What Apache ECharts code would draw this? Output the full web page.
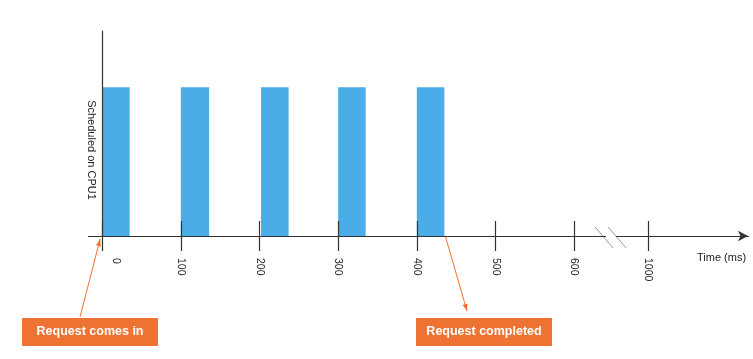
<!DOCTYPE html>
<html><head><meta charset="utf-8">
<script src="https://cdn.jsdelivr.net/npm/echarts@6/dist/echarts.min.js"></script>
<style>html,body{margin:0;padding:0;background:#fff}#c{width:753px;height:359px}</style>
</head><body><div id="c"></div>
<script>
// ---- data ----
const tickValues = [0, 100, 200, 300, 400, 500, 600, 1000];
const tickLabels = ['0', '100', '200', '300', '400', '500', '600', '1000'];
const burstStart = [0, 100, 202, 300, 400];
const burstEnd = [35, 136, 237, 335, 435];
const scheduled = [1, 1, 1, 1, 1];
const axisBreakStart = 640;
const axisBreakEnd = 960;
const annotations = ['Request comes in', 'Request completed'];
const annotationTimes = [0, 435];
const xAxisTitle = 'Time (ms)';
const yAxisTitle = 'Scheduled on CPU1';

const FONT = "'Liberation Sans', Arial, Helvetica, sans-serif";
const ORANGE = '#EE7231';
const BLUE = '#4AADE8';
const AXIS = '#333';

const rows = burstStart.map((s, i) => [s, burstEnd[i], scheduled[i]]);

const chart = echarts.init(document.getElementById('c'), null, {renderer: 'canvas'});

const xBase = {
  type: 'value', min: -18, max: 1127,
  breaks: [{start: axisBreakStart, end: axisBreakEnd, gap: 14}],
  breakArea: {show: false},
  splitLine: {show: false}
};

chart.setOption({
  animation: false,
  grid: {left: 88, right: 5, top: 31, bottom: 123},
  xAxis: [
    Object.assign({}, xBase, {
      position: 'bottom', z: 10,
      axisLine: {show: true, onZero: true, symbol: ['none', 'arrow'], symbolSize: [8, 10],
        lineStyle: {color: AXIS, width: 1.2}},
      axisTick: {show: true, customValues: tickValues, length: 15, lineStyle: {color: AXIS, width: 1.2}},
      axisLabel: {
        customValues: tickValues, rotate: -90, margin: 22, fontSize: 10.5, color: '#222', fontFamily: FONT,
        formatter: v => {
          const i = tickValues.indexOf(v);
          const t = i >= 0 ? tickLabels[i] : '';
          return i === 0 ? '{z|' + t + '}' : t;
        },
        rich: {z: {fontSize: 10.5, color: '#222', fontFamily: FONT, padding: [0, 0, 28, 0]}}
      }
    }),
    Object.assign({}, xBase, {
      position: 'bottom', z: 10,
      axisLine: {show: false},
      axisTick: {show: true, inside: true, customValues: tickValues, length: 15, lineStyle: {color: AXIS, width: 1.2}},
      axisLabel: {show: false}
    })
  ],
  yAxis: {
    type: 'value', min: 0, max: 1.379, z: 10,
    axisLine: {show: true, onZero: true, lineStyle: {color: AXIS, width: 1.2}},
    axisTick: {show: false}, axisLabel: {show: false}, splitLine: {show: false}
  },
  series: [{
    type: 'custom',
    xAxisIndex: 0, yAxisIndex: 0, z: 2,
    data: rows,
    encode: {x: [0, 1], y: 2},
    renderItem: (params, api) => {
      const p0 = api.coord([api.value(0), 0]);
      const p1 = api.coord([api.value(1), api.value(2)]);
      return {type: 'rect', shape: {x: p0[0], y: p1[1], width: p1[0] - p0[0], height: p0[1] - p1[1]},
        style: {fill: BLUE}};
    }
  }]
});

// ---- annotations (placed from axis coordinates) ----
const px = v => chart.convertToPixel({gridIndex: 0}, v);
const a0 = px([annotationTimes[0], 0]);
const a1 = px([annotationTimes[1], 0]);
const p600 = px([tickValues[6], 0]);
const p1000 = px([tickValues[7], 0]);
const mid = (p600[0] + p1000[0]) / 2;
const axY = a0[1];

function arrowHead(tip, from, len, half) {
  const dx = tip[0] - from[0], dy = tip[1] - from[1];
  const L = Math.hypot(dx, dy), ux = dx / L, uy = dy / L;
  const bx = tip[0] - ux * len, by = tip[1] - uy * len;
  return [[tip[0], tip[1]], [bx - uy * half, by + ux * half], [bx + uy * half, by - ux * half]];
}

const tip1 = [a0[0] - 2, axY + 3], tail1 = [80, 317];
const start2 = [a1[0] + 1, axY], tip2 = [467, 311];

const boxes = [[22, 318], [416, 318]];
const g = [];
boxes.forEach((b, i) => {
  g.push({type: 'rect', left: b[0], top: b[1], shape: {width: 136, height: 28}, style: {fill: ORANGE}, z: 10});
  g.push({type: 'text', x: b[0] + 68, y: b[1] + 14, z: 11,
    style: {text: annotations[i], fill: '#fff', font: 'bold 12.5px ' + FONT, align: 'center', verticalAlign: 'middle'}});
});
g.push({type: 'line', shape: {x1: tail1[0], y1: tail1[1], x2: tip1[0], y2: tip1[1]}, style: {stroke: ORANGE, lineWidth: 1}, z: 10});
g.push({type: 'polygon', shape: {points: arrowHead(tip1, tail1, 7, 2.5)}, style: {fill: ORANGE}, z: 10});
g.push({type: 'line', shape: {x1: start2[0], y1: start2[1], x2: tip2[0], y2: tip2[1]}, style: {stroke: ORANGE, lineWidth: 1}, z: 10});
g.push({type: 'polygon', shape: {points: arrowHead(tip2, start2, 7, 2.5)}, style: {fill: ORANGE}, z: 10});
// axis-break marks
[-7, 6].forEach(o => {
  g.push({type: 'line', shape: {x1: mid + o - 9, y1: axY - 9, x2: mid + o + 9, y2: axY + 12},
    style: {stroke: '#999', lineWidth: 1}, z: 10});
});
g.push({type: 'text', x: 697, y: 258, z: 10,
  style: {text: xAxisTitle, fill: '#222', font: '11px ' + FONT, align: 'left', verticalAlign: 'middle'}});
g.push({type: 'text', x: 91, y: 150, rotation: -Math.PI / 2, z: 10,
  style: {text: yAxisTitle, fill: '#222', font: '11px ' + FONT, align: 'center', verticalAlign: 'middle'}});
chart.setOption({graphic: g});
</script>
</body></html>
